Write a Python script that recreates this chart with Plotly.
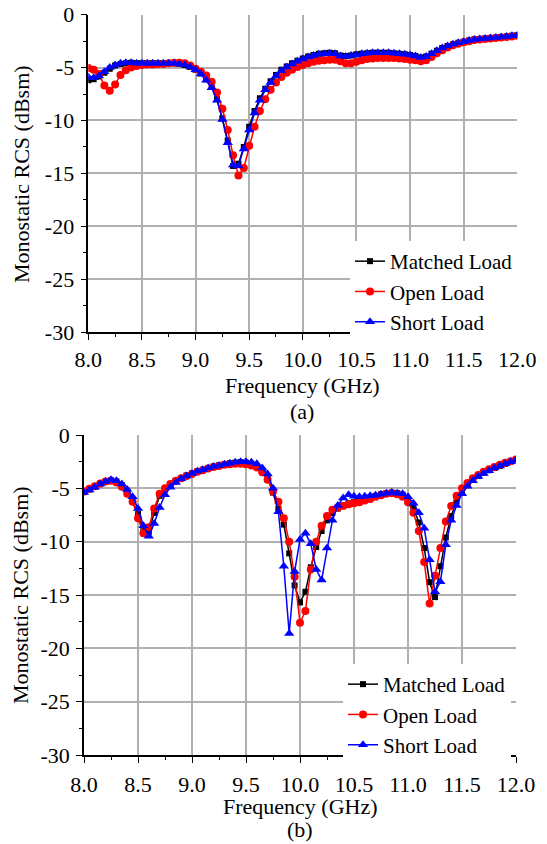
import plotly.graph_objects as go

# ---------------- data ----------------
freq = [8.00, 8.05, 8.10, 8.15, 8.20, 8.25, 8.30, 8.35, 8.40, 8.45,
        8.50, 8.55, 8.60, 8.65, 8.70, 8.75, 8.80, 8.85, 8.90, 8.95,
        9.00, 9.05, 9.10, 9.15, 9.20, 9.25, 9.30, 9.35, 9.40, 9.45,
        9.50, 9.55, 9.60, 9.65, 9.70, 9.75, 9.80, 9.85, 9.90, 9.95,
        10.00, 10.05, 10.10, 10.15, 10.20, 10.25, 10.30, 10.35, 10.40, 10.45,
        10.50, 10.55, 10.60, 10.65, 10.70, 10.75, 10.80, 10.85, 10.90, 10.95,
        11.00, 11.05, 11.10, 11.15, 11.20, 11.25, 11.30, 11.35, 11.40, 11.45,
        11.50, 11.55, 11.60, 11.65, 11.70, 11.75, 11.80, 11.85, 11.90, 11.95,
        12.00]

# (a)
a_matched = [-6.2, -6.1, -5.85, -5.5, -5.1, -4.8, -4.65, -4.6, -4.55, -4.6,
             -4.6, -4.6, -4.6, -4.6, -4.6, -4.6, -4.6, -4.65, -4.75, -4.95,
             -5.2, -5.55, -6.1, -6.8, -8.0, -9.8, -11.9, -14.3, -14.1, -12.5,
             -10.6, -9.1, -7.9, -7.0, -6.3, -5.7, -5.2, -4.9, -4.6, -4.35,
             -4.15, -3.95, -3.8, -3.7, -3.65, -3.6, -3.65, -3.85, -3.9, -3.85,
             -3.75, -3.7, -3.65, -3.6, -3.6, -3.6, -3.6, -3.65, -3.7, -3.75,
             -3.8, -3.9, -4.05, -3.95, -3.7, -3.4, -3.15, -2.95, -2.8, -2.65,
             -2.55, -2.45, -2.35, -2.3, -2.25, -2.2, -2.15, -2.1, -2.05, -2.0,
             -1.95]
a_open = [-5.05, -5.2, -5.6, -6.7, -7.2, -6.6, -5.7, -5.25, -5.0, -4.85,
          -4.75, -4.7, -4.7, -4.65, -4.65, -4.6, -4.55, -4.55, -4.6, -4.8,
          -5.1, -5.4, -5.75, -6.35, -7.35, -8.9, -10.9, -13.3, -15.2, -14.5,
          -12.4, -10.6, -9.1, -8.0, -7.1, -6.4, -5.9, -5.5, -5.2, -4.95,
          -4.75, -4.6, -4.45, -4.35, -4.3, -4.25, -4.25, -4.4, -4.6, -4.6,
          -4.45, -4.3, -4.2, -4.15, -4.1, -4.1, -4.1, -4.1, -4.15, -4.2,
          -4.25, -4.3, -4.4, -4.3, -4.0, -3.65, -3.35, -3.1, -2.9, -2.75,
          -2.6, -2.5, -2.4, -2.35, -2.3, -2.25, -2.2, -2.15, -2.1, -2.05,
          -2.0]
a_short = [-5.9, -5.95, -5.8, -5.4, -5.0, -4.75, -4.6, -4.55, -4.55, -4.6,
           -4.6, -4.6, -4.6, -4.6, -4.6, -4.6, -4.6, -4.65, -4.75, -4.95,
           -5.2, -5.6, -6.2, -6.9, -8.1, -9.9, -12.1, -14.2, -14.3, -12.7,
           -10.9, -9.3, -8.1, -7.1, -6.4, -5.8, -5.3, -4.95, -4.65, -4.4,
           -4.2, -4.0, -3.85, -3.75, -3.7, -3.65, -3.7, -3.9, -3.95, -3.85,
           -3.8, -3.7, -3.65, -3.6, -3.6, -3.6, -3.6, -3.65, -3.7, -3.75,
           -3.8, -3.9, -4.05, -3.95, -3.7, -3.4, -3.15, -2.95, -2.8, -2.65,
           -2.55, -2.45, -2.35, -2.3, -2.25, -2.2, -2.15, -2.1, -2.05, -2.0,
           -1.95]

# (b)
b_matched = [-5.35, -5.1, -4.85, -4.6, -4.35, -4.25, -4.35, -4.7, -5.3, -6.2,
             -7.4, -8.9, -9.1, -7.3, -5.7, -5.1, -4.65, -4.3, -4.05, -3.8,
             -3.6, -3.4, -3.25, -3.1, -2.95, -2.85, -2.75, -2.65, -2.6, -2.55,
             -2.6, -2.7, -2.9, -3.3, -4.0, -5.4, -6.9, -8.4, -11.1, -14.1,
             -15.7, -14.7, -12.4, -10.5, -9.0, -8.0, -7.3, -6.9, -6.6, -6.4,
             -6.3, -6.2, -6.0, -5.85, -5.7, -5.55, -5.45, -5.4, -5.45, -5.6,
             -6.0, -6.8, -8.2, -10.6, -13.8, -15.2, -12.3, -9.6, -7.6, -6.2,
             -5.3, -4.7, -4.2, -3.85, -3.55, -3.3, -3.1, -2.9, -2.7, -2.5,
             -2.35]
b_open = [-5.3, -5.05, -4.8, -4.55, -4.35, -4.3, -4.45, -4.85, -5.5, -6.25,
          -7.8, -9.2, -8.65, -6.9, -5.5, -5.0, -4.6, -4.3, -4.05, -3.85,
          -3.65, -3.45, -3.3, -3.15, -3.0, -2.9, -2.8, -2.75, -2.7, -2.7,
          -2.75, -2.85, -3.05, -3.5, -4.2, -5.3, -6.25, -7.8, -10.0, -13.3,
          -17.6, -16.5, -12.6, -10.0, -8.5, -7.6, -7.0, -6.8, -6.65, -6.5,
          -6.4, -6.3, -6.15, -6.0, -5.8, -5.65, -5.5, -5.45, -5.55, -5.8,
          -6.3, -7.3, -9.0, -11.9, -15.8, -13.2, -10.6, -8.1, -6.65, -5.7,
          -5.0, -4.5, -4.05, -3.75, -3.45, -3.2, -3.0, -2.8, -2.6, -2.45,
          -2.3]
b_short = [-5.4, -5.15, -4.9, -4.6, -4.35, -4.2, -4.3, -4.6, -5.1, -5.8,
           -6.9, -8.5, -9.5, -8.3, -6.8, -5.6, -4.9, -4.45, -4.1, -3.85,
           -3.6, -3.4, -3.25, -3.1, -2.95, -2.85, -2.75, -2.65, -2.55, -2.5,
           -2.5, -2.55, -2.7, -3.1, -3.65, -5.0, -7.2, -12.3, -18.6, -12.8,
           -9.8, -9.2, -10.2, -12.6, -13.6, -10.6, -8.0, -6.6, -5.9, -5.6,
           -5.75, -5.8, -5.75, -5.7, -5.65, -5.55, -5.45, -5.4, -5.45, -5.5,
           -5.8, -6.4, -7.3, -8.75, -11.7, -14.7, -13.75, -10.3, -8.0, -6.6,
           -5.5, -4.8, -4.3, -3.9, -3.6, -3.35, -3.1, -2.9, -2.7, -2.5,
           -2.35]

series_names = ["Matched Load", "Open Load", "Short Load"]
x_tickvals = [8.0, 8.5, 9.0, 9.5, 10.0, 10.5, 11.0, 11.5, 12.0]
x_ticktext = ["8.0", "8.5", "9.0", "9.5", "10.0", "10.5", "11.0", "11.5", "12.0"]
y_tickvals = [0, -5, -10, -15, -20, -25, -30]
y_ticktext = ["0", "-5", "-10", "-15", "-20", "-25", "-30"]
y_title = "Monostatic RCS (dBsm)"
x_title = "Frequency (GHz)"
panel_labels = ["(a)", "(b)"]

# ---------------- style ----------------
W, H = 547, 844
FONT = "Liberation Serif, DejaVu Serif"
colors = ["#000000", "#ff0000", "#0000ff"]
symbols = ["square", "circle", "triangle-up"]
msizes = [6, 8, 9]
GRID = "#b0b0b0"

fig = go.Figure()

panels = [
    dict(data=[a_matched, a_open, a_short], xa="x", ya="y", legend="legend"),
    dict(data=[b_matched, b_open, b_short], xa="x2", ya="y2", legend="legend2"),
]
for p in panels:
    for i, ys in enumerate(p["data"]):
        fig.add_trace(go.Scatter(
            x=freq, y=ys, mode="lines+markers", name=series_names[i],
            line=dict(color=colors[i], width=1.5),
            marker=dict(symbol=symbols[i], size=msizes[i], color=colors[i],
                        line=dict(width=0)),
            xaxis=p["xa"], yaxis=p["ya"], legend=p["legend"],
        ))

def xd(l, r):
    return [l / W, r / W]

def yd(t, b):
    return [1 - b / H, 1 - t / H]

geo = [dict(x=xd(88.3, 517.3), y=yd(14.7, 332)),
       dict(x=xd(84, 516), y=yd(435, 755))]

tickfont = dict(family=FONT, size=22, color="black")

def xaxis_main(dom, anchor, standoff):
    return dict(domain=dom, anchor=anchor, range=[8, 12], tickmode="array",
                tickvals=x_tickvals, ticktext=x_ticktext, ticks="outside",
                ticklen=6, tickwidth=1.3, tickcolor="black", ticklabelstandoff=standoff,
                minor=dict(tickmode="linear", tick0=8, dtick=0.25, ticks="outside",
                           ticklen=3.5, tickwidth=1.3, tickcolor="black", showgrid=False),
                showline=True, linecolor="black", linewidth=1.5,
                showgrid=True, gridcolor=GRID, gridwidth=1.5, automargin=False,
                zeroline=False, tickfont=tickfont)

def yaxis_main(dom, anchor):
    return dict(domain=dom, anchor=anchor, range=[-30, 0], tickmode="array",
                tickvals=y_tickvals, ticktext=y_ticktext, ticks="outside",
                ticklen=6, tickwidth=1.3, tickcolor="black", ticklabelstandoff=2,
                minor=dict(tickmode="linear", tick0=0, dtick=2.5, ticks="outside",
                           ticklen=3.5, tickwidth=1.3, tickcolor="black", showgrid=False),
                showline=True, linecolor="black", linewidth=1.5,
                showgrid=True, gridcolor=GRID, gridwidth=1.5, automargin=False,
                zeroline=False, tickfont=tickfont)

def xaxis_mirror(over, anchor):
    return dict(overlaying=over, anchor=anchor, side="top", range=[8, 12],
                tickmode="array", tickvals=x_tickvals, ticks="inside", ticklen=6,
                tickwidth=1.3, tickcolor="black", showticklabels=False,
                minor=dict(tickmode="linear", tick0=8, dtick=0.25, ticks="inside",
                           ticklen=3.5, tickwidth=1.3, tickcolor="black", showgrid=False),
                showline=True, linecolor="black", linewidth=1.5, automargin=False,
                showgrid=False, zeroline=False)

def yaxis_mirror(over, anchor):
    return dict(overlaying=over, anchor=anchor, side="right", range=[-30, 0],
                tickmode="array", tickvals=y_tickvals, ticks="inside", ticklen=6,
                tickwidth=1.3, tickcolor="black", showticklabels=False,
                minor=dict(tickmode="linear", tick0=0, dtick=2.5, ticks="inside",
                           ticklen=3.5, tickwidth=1.3, tickcolor="black", showgrid=False),
                showline=True, linecolor="black", linewidth=1.5, automargin=False,
                showgrid=False, zeroline=False)

legend_common = dict(bgcolor="white", borderwidth=0, xanchor="left", yanchor="top",
                     font=dict(family=FONT, size=21, color="black"),
                     tracegroupgap=0, itemclick=False)

title_font = dict(family=FONT, size=22, color="black")
annotations = [
    dict(text=y_title, x=22 / W, y=1 - 174 / H, textangle=-90),
    dict(text=y_title, x=20 / W, y=1 - 595 / H, textangle=-90),
    dict(text=x_title, x=302 / W, y=1 - 385 / H),
    dict(text=x_title, x=300 / W, y=1 - 806 / H),
    dict(text=panel_labels[0], x=302 / W, y=1 - 411 / H),
    dict(text=panel_labels[1], x=300 / W, y=1 - 829 / H),
]
for a in annotations:
    a.update(xref="paper", yref="paper", showarrow=False, font=title_font,
             xanchor="center", yanchor="middle")

fig.update_layout(
    width=W, height=H, autosize=False,
    margin=dict(l=0, r=0, t=0, b=0, pad=0, autoexpand=False),
    paper_bgcolor="white", plot_bgcolor="white",
    font=dict(family=FONT, color="black", size=20),
    showlegend=True,
    xaxis=xaxis_main(geo[0]["x"], "y", 1),
    yaxis=yaxis_main(geo[0]["y"], "x"),
    xaxis2=xaxis_main(geo[1]["x"], "y2", 3),
    yaxis2=yaxis_main(geo[1]["y"], "x2"),
    xaxis3=xaxis_mirror("x", "y"),
    yaxis3=yaxis_mirror("y", "x"),
    xaxis4=xaxis_mirror("x2", "y2"),
    yaxis4=yaxis_mirror("y2", "x2"),
    legend=dict(x=350 / W, y=1 - 241 / H, **legend_common),
    legend2=dict(x=343 / W, y=1 - 664 / H, **legend_common),
    annotations=annotations,
)

post = "document.body.style.margin='0';"
fig.write_html("out.html", config={"responsive": False, "displayModeBar": False},
               post_script=post)
